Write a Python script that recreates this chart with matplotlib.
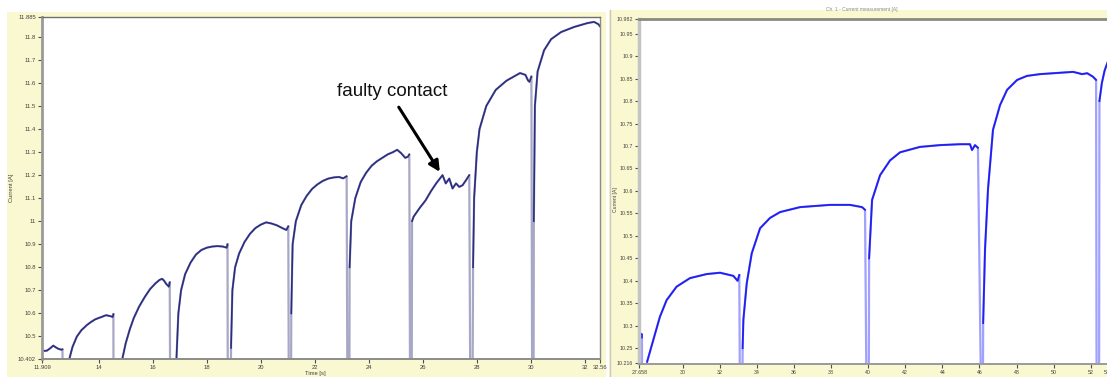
import numpy as np
import matplotlib
matplotlib.use("Agg")
import matplotlib.pyplot as plt
from matplotlib.patches import Rectangle

# ---------------- data: left panel ----------------
left_time = [
    11.909, 12.08, 12.2, 12.32, 12.42, 12.51, 12.63, 12.66, 12.67, 12.90,
    12.92, 13.03, 13.19, 13.36, 13.56, 13.72, 13.87, 14.0, 14.12, 14.22, 14.30, 14.38, 14.44, 14.52, 14.545, 14.55, 14.86,
    14.88, 15.0, 15.15, 15.3, 15.5, 15.7, 15.9, 16.1, 16.25, 16.35, 16.42, 16.5, 16.6, 16.63, 16.65, 16.86,
    16.88, 16.95, 17.05, 17.2, 17.4, 17.6, 17.8, 18.0, 18.2, 18.4, 18.6, 18.74, 18.77, 18.78, 18.88,
    18.9, 18.95, 19.05, 19.2, 19.4, 19.6, 19.8, 20.0, 20.2, 20.4, 20.6, 20.8, 20.95, 21.02, 21.04, 21.12,
    21.13, 21.18, 21.3, 21.5, 21.7, 21.9, 22.1, 22.3, 22.5, 22.7, 22.9, 23.05, 23.18, 23.21, 23.28,
    23.29, 23.35, 23.5, 23.7, 23.9, 24.1, 24.3, 24.5, 24.7, 24.9, 25.05, 25.2, 25.35, 25.45, 25.5, 25.53, 25.59,
    25.6, 25.66, 25.9, 26.1, 26.3, 26.5, 26.73, 26.85, 26.98, 27.1, 27.23, 27.35, 27.47, 27.6, 27.72, 27.76, 27.84,
    27.86, 27.9, 28.0, 28.1, 28.35, 28.7, 29.1, 29.4, 29.6, 29.8, 29.9, 29.95, 30.02, 30.05, 30.1,
    30.11, 30.15, 30.25, 30.49, 30.75, 31.12, 31.6, 32.1, 32.34, 32.5, 32.56,
]
left_current = [
    10.437, 10.438, 10.448, 10.46, 10.452, 10.446, 10.442, 10.444, 10.2, 10.2,
    10.405, 10.454, 10.499, 10.527, 10.549, 10.563, 10.574, 10.58, 10.585, 10.59, 10.592, 10.589, 10.588, 10.584, 10.597, 10.2, 10.2,
    10.405, 10.47, 10.53, 10.58, 10.63, 10.67, 10.705, 10.73, 10.745, 10.75, 10.742, 10.728, 10.716, 10.735, 10.2, 10.2,
    10.405, 10.6, 10.7, 10.77, 10.82, 10.855, 10.875, 10.885, 10.89, 10.892, 10.89, 10.885, 10.9, 10.2, 10.2,
    10.45, 10.7, 10.8, 10.86, 10.91, 10.945, 10.97, 10.985, 10.995, 10.99, 10.982, 10.97, 10.962, 10.978, 10.2, 10.2,
    10.6, 10.9, 11.0, 11.07, 11.11, 11.14, 11.16, 11.175, 11.185, 11.19, 11.192, 11.186, 11.195, 10.2, 10.2,
    10.8, 11.0, 11.1, 11.17, 11.21, 11.24, 11.26, 11.275, 11.29, 11.3, 11.31, 11.295, 11.275, 11.28, 11.29, 10.2, 10.2,
    11.0, 11.02, 11.06, 11.09, 11.13, 11.165, 11.2, 11.164, 11.185, 11.142, 11.164, 11.149, 11.156, 11.178, 11.2, 10.2, 10.2,
    10.8, 11.1, 11.3, 11.4, 11.5, 11.57, 11.61, 11.63, 11.643, 11.635, 11.61, 11.605, 11.628, 10.2, 10.2,
    11.0, 11.5, 11.65, 11.742, 11.79, 11.821, 11.843, 11.86, 11.865, 11.855, 11.846,
]
left_xticks = [11.909, 14, 16, 18, 20, 22, 24, 26, 28, 30, 32, 32.56]
left_xlabels = ["11.909", "14", "16", "18", "20", "22", "24", "26", "28", "30", "32", "32.56"]
left_yticks = [10.402, 10.5, 10.6, 10.7, 10.8, 10.9, 11.0, 11.1, 11.2, 11.3, 11.4, 11.5, 11.6, 11.7, 11.8, 11.885]
left_ylabels = ["10.402", "10.5", "10.6", "10.7", "10.8", "10.9", "11", "11.1", "11.2", "11.3",
                "11.4", "11.5", "11.6", "11.7", "11.8", "11.885"]

# ---------------- data: right panel ----------------
right_time = [
    27.658, 27.70, 27.74, 27.78, 27.80, 27.82, 28.06,
    28.08, 28.41, 28.77, 29.13, 29.67, 30.39, 31.29, 32.01, 32.73, 32.96, 33.05, 33.09, 33.21,
    33.23, 33.27, 33.45, 33.72, 34.17, 34.71, 35.25, 36.33, 37.94, 39.02, 39.67, 39.83, 39.92, 40.03,
    40.05, 40.21, 40.64, 41.18, 41.72, 42.79, 43.87, 44.95, 45.49, 45.60, 45.76, 45.92, 46.10, 46.18,
    46.20, 46.30, 46.46, 46.73, 47.11, 47.49, 48.03, 48.56, 49.27, 50.35, 51.05, 51.54, 51.81, 52.13, 52.29, 52.32, 52.45,
    52.47, 52.6, 52.75, 52.9, 53.0,
]
right_current = [
    10.279, 10.276, 10.274, 10.282, 10.274, 10.1, 10.1,
    10.22, 10.268, 10.320, 10.357, 10.387, 10.406, 10.415, 10.418, 10.411, 10.400, 10.413, 10.1, 10.1,
    10.25, 10.313, 10.394, 10.461, 10.517, 10.54, 10.553, 10.564, 10.569, 10.569, 10.564, 10.558, 10.1, 10.1,
    10.45, 10.58, 10.635, 10.668, 10.686, 10.698, 10.702, 10.704, 10.704, 10.691, 10.702, 10.696, 10.1, 10.1,
    10.306, 10.469, 10.603, 10.736, 10.791, 10.825, 10.847, 10.856, 10.86, 10.863, 10.865, 10.86, 10.862, 10.854, 10.847, 10.1, 10.1,
    10.80, 10.84, 10.868, 10.885, 10.895,
]
right_xticks = [27.658, 30, 32, 34, 36, 38, 40, 42, 44, 46, 48, 50, 52, 53.04]
right_xlabels = ["27.658", "30", "32", "34", "36", "38", "40", "42", "44", "46", "48", "50", "52", "53.04"]
right_yticks = [10.216, 10.25, 10.3, 10.35, 10.4, 10.45, 10.5, 10.55, 10.6, 10.65, 10.7,
                10.75, 10.8, 10.85, 10.9, 10.95, 10.982]
right_ylabels = ["10.216", "10.25", "10.3", "10.35", "10.4", "10.45", "10.5", "10.55", "10.6", "10.65",
                 "10.7", "10.75", "10.8", "10.85", "10.9", "10.95", "10.982"]

# ---------------- layout ----------------
W, H = 1107, 377
fig = plt.figure(figsize=(W / 100, H / 100), dpi=100)
fig.patch.set_facecolor("white")
plt.rcParams["font.family"] = ["Liberation Sans", "DejaVu Sans"]

BEIGE = "#FAF8D0"


def rect(x0, y0, x1, y1):
    return [x0 / W, 1 - y1 / H, (x1 - x0) / W, (y1 - y0) / H]


# beige panel backgrounds (drawn beneath the axes)
fig.patches.append(Rectangle((7 / W, 0), (606 - 7) / W, 1 - 12 / H, transform=fig.transFigure,
                             facecolor=BEIGE, edgecolor="none", zorder=-5))
fig.patches.append(Rectangle((609 / W, 0), (W - 609) / W, 1 - 10 / H, transform=fig.transFigure,
                             facecolor=BEIGE, edgecolor="none", zorder=-5))
fig.add_artist(plt.Line2D([609.5 / W, 609.5 / W], [0, 1 - 10 / H], transform=fig.transFigure,
                          color="#c8c8c0", lw=1.0, zorder=-4))


def style_axes(ax, xt, xl, yt, yl, spine_cols, fs):
    ax.set_facecolor("white")
    ax.set_xticks(xt)
    ax.set_xticklabels(xl)
    ax.set_yticks(yt)
    ax.set_yticklabels(yl)
    ax.tick_params(axis="both", labelsize=fs, colors="#505050", labelcolor="#404040",
                   length=3, width=0.8, pad=1.5, direction="out")
    for side, (c, lw) in spine_cols.items():
        ax.spines[side].set_color(c)
        ax.spines[side].set_linewidth(lw)


# ---------------- left panel ----------------
axL = fig.add_axes(rect(42.2, 17.3, 600, 359))
lt = np.array(left_time)
lc = np.array(left_current)
yminL, ymaxL = 10.402, 11.885
axL.plot(lt, lc, color="#a8a8c6", lw=1.6)
axL.plot(lt, np.where(lc < yminL, np.nan, lc), color="#2b2e80", lw=1.2)
axL.set_xlim(11.909, 32.56)
axL.set_ylim(yminL, ymaxL)
style_axes(axL, left_xticks, left_xlabels, left_yticks, left_ylabels,
           {"left": ("#9a9a9a", 2.0), "bottom": ("#8c8c8c", 1.4),
            "top": ("#707070", 1.0), "right": ("#8a8a8a", 1.0)}, 4.2)

axL.text(22.81, 11.543, "faulty contact", fontsize=13.5, color="#111111",
         family=["Liberation Sans", "DejaVu Sans"], ha="left", va="baseline")
axL.annotate("", xy=(26.63, 11.214), xytext=(25.11, 11.495),
             arrowprops=dict(arrowstyle="-|>", lw=2.2, color="black",
                             mutation_scale=16, shrinkA=0, shrinkB=0))

fig.text(315 / W, 1 - 374 / H, "Time [s]", fontsize=4.2, color="#404040", ha="center", va="center")
fig.text(12 / W, 1 - 188 / H, "Current [A]", fontsize=4.2, color="#404040", ha="center",
         va="center", rotation=90)

# ---------------- right panel ----------------
axR = fig.add_axes(rect(639.3, 19.3, 1110, 363.5))
rt = np.array(right_time)
rc = np.array(right_current)
yminR, ymaxR = 10.216, 10.982
axR.plot(rt, rc, color="#a0a0ff", lw=1.6)
axR.plot(rt, np.where(rc < yminR, np.nan, rc), color="#1f1ff0", lw=1.3)
axR.set_xlim(27.658, 53.04)
axR.set_ylim(yminR, ymaxR)
style_axes(axR, right_xticks, right_xlabels, right_yticks, right_ylabels,
           {"left": ("#c4c4c4", 2.5), "bottom": ("#9a9a9a", 1.4),
            "top": ("#8a8a80", 2.0), "right": ("#8a8a8a", 1.0)}, 3.8)

fig.text(615 / W, 1 - 200 / H, "Current [A]", fontsize=3.6, color="#404040", ha="center",
         va="center", rotation=90)
fig.text(862 / W, 1 - 9.5 / H, "Ch. 1 - Current measurement [A]", fontsize=3.5,
         color="#8a8a8a", ha="center", va="center")

fig.savefig("out.png", dpi=100, facecolor=fig.get_facecolor())
